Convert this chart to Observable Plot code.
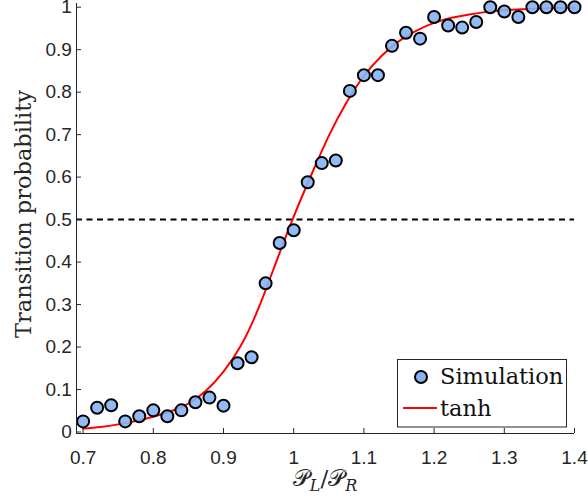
<!DOCTYPE html>
<html><head><meta charset="utf-8">
<script src="https://cdn.jsdelivr.net/npm/d3@7"></script>
<script src="https://cdn.jsdelivr.net/npm/@observablehq/plot@0.6"></script>
<style>body{margin:0;background:#fff} #chart{width:588px;height:499px}
.serif{font-family:"DejaVu Serif","Liberation Serif",serif !important}</style>
</head><body><div id="chart"></div>
<script>
// Simulation points
const simX = [0.70,0.72,0.74,0.76,0.78,0.80,0.82,0.84,0.86,0.88,0.90,0.92,0.94,0.96,0.98,1.00,1.02,1.04,1.06,1.08,1.10,1.12,1.14,1.16,1.18,1.20,1.22,1.24,1.26,1.28,1.30,1.32,1.34,1.36,1.38,1.40];
const simY = [0.025,0.057,0.063,0.025,0.037,0.051,0.037,0.051,0.070,0.081,0.062,0.162,0.176,0.350,0.445,0.475,0.588,0.633,0.639,0.803,0.840,0.840,0.909,0.940,0.926,0.977,0.957,0.952,0.965,1.000,0.990,0.977,1.000,1.000,1.000,1.000];
// tanh fit curve
const fitX = [0.700,0.725,0.750,0.775,0.800,0.825,0.850,0.875,0.900,0.925,0.950,0.975,1.000,1.025,1.050,1.075,1.100,1.125,1.150,1.175,1.200,1.225,1.250,1.275,1.300,1.325,1.350,1.375,1.400];
const fitY = [0.008,0.012,0.018,0.026,0.036,0.049,0.067,0.097,0.142,0.204,0.292,0.400,0.507,0.605,0.697,0.775,0.838,0.885,0.920,0.945,0.963,0.975,0.983,0.989,0.993,0.995,0.997,0.998,0.999];
const threshold = [0.5];
const xTicks = [0.7,0.8,0.9,1,1.1,1.2,1.3,1.4];
const yTicks = [0,0.1,0.2,0.3,0.4,0.5,0.6,0.7,0.8,0.9,1];
const xDomain = [0.6906, 1.4];
const yDomain = [-0.0035, 1.0087];
const legendLabels = ["Simulation", "tanh"];

const sim = simX.map((x, i) => ({x, y: simY[i]}));
const fit = fitX.map((x, i) => ({x, y: fitY[i]}));
const axisColor = "#262626";
const dotFill = "#86b2f3";

const plot = Plot.plot({
  width: 588, height: 499,
  marginLeft: 76, marginRight: 14, marginTop: 3, marginBottom: 66,
  x: {domain: xDomain},
  y: {domain: yDomain},
  style: {fontFamily: "'Liberation Sans', Arial, sans-serif", fontSize: "19px", color: axisColor, background: "white", overflow: "visible"},
  marks: [
    Plot.ruleY(threshold, {stroke: "black", strokeWidth: 2, strokeDasharray: "6,4.5"}),
    Plot.line(fit, {x: "x", y: "y", stroke: "#ff0000", strokeWidth: 2, curve: "natural"}),
    Plot.dot(sim, {x: "x", y: "y", r: 6, fill: dotFill, fillOpacity: 0.9, stroke: "black", strokeWidth: 2}),
    Plot.ruleX([xDomain[0]], {stroke: axisColor}),
    Plot.ruleY([yDomain[0]], {stroke: axisColor}),
    Plot.axisX({ticks: xTicks, tickFormat: d => String(d), tickSize: -5, tickPadding: 22, label: null, stroke: axisColor, fill: axisColor}),
    Plot.axisY({ticks: yTicks, tickFormat: d => String(d), tickSize: -5, tickPadding: 9.6, label: null, stroke: axisColor, fill: axisColor})
  ]
});
document.getElementById("chart").appendChild(plot);

const svg = d3.select(plot);

// y label
svg.append("text").attr("class", "serif")
  .attr("transform", "translate(31,214) rotate(-90)")
  .attr("text-anchor", "middle")
  .style("font-size", "22.5px")
  .attr("fill", axisColor)
  .text("Transition probability");

// x label
const xl = svg.append("text").attr("class", "serif")
  .attr("x", 325).attr("y", 486)
  .attr("text-anchor", "middle")
  .style("font-size", "23px")
  .attr("fill", axisColor);
xl.append("tspan").text("\u{1D4AB}");
xl.append("tspan").style("font-size", "16px").style("font-style", "italic").attr("dy", 5).text("L");
xl.append("tspan").attr("dy", -5).text("/\u{1D4AB}");
xl.append("tspan").style("font-size", "16px").style("font-style", "italic").attr("dy", 5).text("R");

// legend
const lg = svg.append("g").attr("text-anchor", "start");
lg.append("rect").attr("x", 397.5).attr("y", 359.5).attr("width", 169).attr("height", 67.5)
  .attr("fill", "white").attr("stroke", axisColor).attr("stroke-width", 1);
lg.append("circle").attr("cx", 421).attr("cy", 377).attr("r", 6)
  .attr("fill", dotFill).attr("stroke", "black").attr("stroke-width", 2);
lg.append("line").attr("x1", 403).attr("x2", 437).attr("y1", 408).attr("y2", 408)
  .attr("stroke", "#ff0000").attr("stroke-width", 2);
lg.selectAll("text.lab").data(legendLabels).join("text")
  .attr("class", "lab serif")
  .attr("text-anchor", "start")
  .attr("x", 440).attr("y", (d, i) => i === 0 ? 384 : 416)
  .style("font-size", "22.5px")
  .attr("fill", "#111")
  .text(d => d);
</script>
</body></html>
